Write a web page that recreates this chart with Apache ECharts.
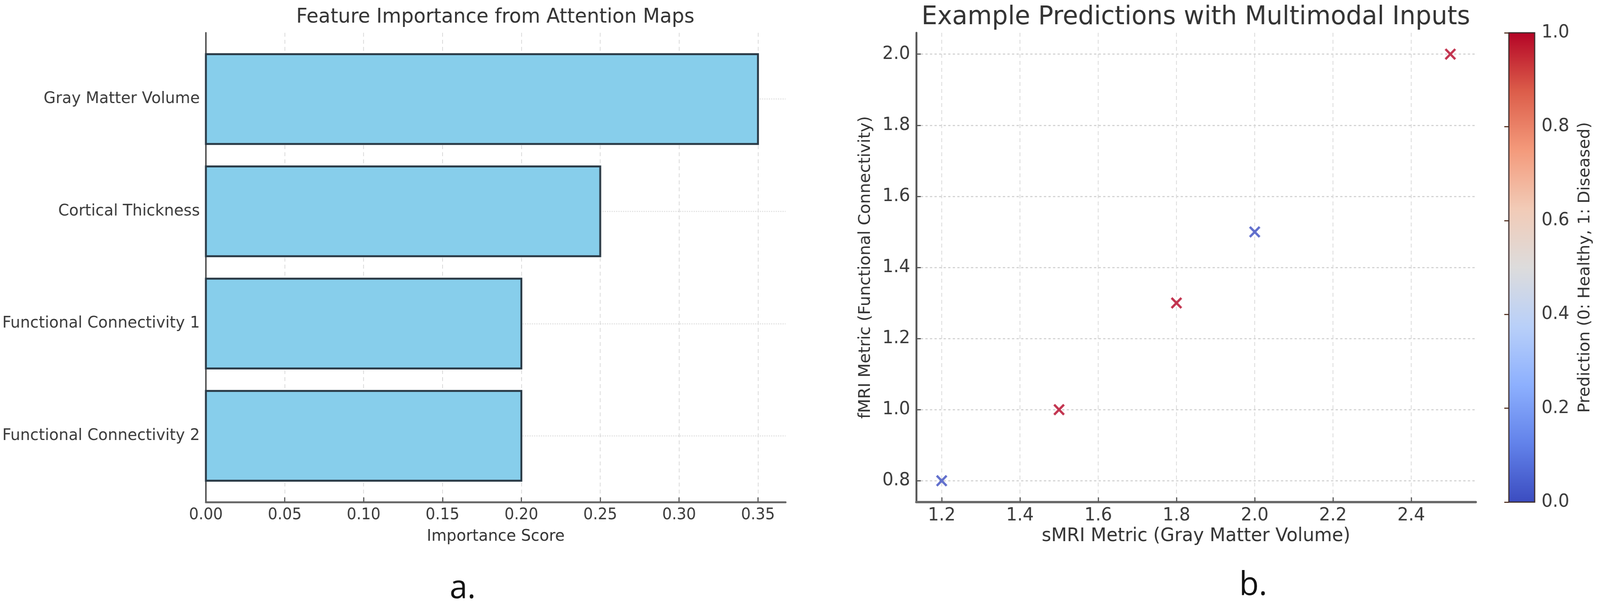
<!DOCTYPE html>
<html>
<head>
<meta charset="utf-8">
<script src="https://cdn.jsdelivr.net/npm/echarts@6/dist/echarts.min.js"></script>
<style>
  html, body { margin: 0; padding: 0; background: #fff; overflow: hidden; }
  #chart { width: 4212px; height: 1547px; transform-origin: 0 0; }
</style>
</head>
<body>
<div id="chart"></div>
<script>
// --- data: feature importance (panel a) ---
var features = ['Gray Matter Volume', 'Cortical Thickness', 'Functional Connectivity 1', 'Functional Connectivity 2'];
var importance = [0.35, 0.25, 0.20, 0.20];
var importanceTicks = [0, 0.05, 0.10, 0.15, 0.20, 0.25, 0.30, 0.35];

// --- data: predictions (panel b) ---
var smri = [1.2, 1.5, 1.8, 2.0, 2.5];
var fmri = [0.8, 1.0, 1.3, 1.5, 2.0];
var prediction = [0, 1, 1, 0, 1];
var smriTicks = [1.2, 1.4, 1.6, 1.8, 2.0, 2.2, 2.4];
var fmriTicks = [0.8, 1.0, 1.2, 1.4, 1.6, 1.8, 2.0];
var colorbarTicks = [0, 0.2, 0.4, 0.6, 0.8, 1.0];

// matplotlib coolwarm, sampled
var coolwarm = ['#3b4cc0', '#6282ea', '#8db0fe', '#b9d0f9', '#dddcdc', '#f2cbb7', '#f49a7b', '#dc5d4a', '#b40426'];

(function() {
  var font = 'DejaVu Sans';
  var ink = '#333';
  var spine = '#555';
  var grid = '#d9d9d9';

  // the layout below is in 4212x1547 px; fit it to whatever viewport we get
  var el = document.getElementById('chart');
  function fit() {
    var sx = window.innerWidth / 4212, sy = window.innerHeight / 1547;
    el.style.transform = 'scale(' + sx + ',' + sy + ')';
  }
  fit();

  var chart = echarts.init(el, null, { renderer: 'canvas' });

  var barData = importance.map(function(v, i) { return [v, i]; });
  var scatterData = smri.map(function(x, i) { return [x, fmri[i], prediction[i]]; });

  // filled "x" marker, like matplotlib's marker='x'
  var xMark = 'path://M0,14L14,0L50,36L86,0L100,14L64,50L100,86L86,100L50,64L14,100L0,86L36,50Z';

  var barStops = coolwarm.map(function(c, i) { return { offset: i / (coolwarm.length - 1), color: c }; });

  function tickAxis(ticks, digits, size) {
    return {
      axisTick: { show: true, inside: true, length: 12, customValues: ticks, lineStyle: { color: spine, width: 3 } },
      axisLabel: {
        customValues: ticks, color: '#3a3a3a', fontFamily: font, fontSize: size,
        formatter: function(v) { return v.toFixed(digits); }
      }
    };
  }

  var xA = tickAxis(importanceTicks, 2, 40);
  var xB = tickAxis(smriTicks, 1, 46);
  var yB = tickAxis(fmriTicks, 1, 46);
  var yC = tickAxis(colorbarTicks, 1, 46);

  chart.setOption({
    animation: false,
    backgroundColor: '#fff',
    grid: [
      { left: 542, top: 84, width: 1526, height: 1202 },
      { left: 2412, top: 84, width: 1473, height: 1202 },
      { left: 3972, top: 84, width: 68, height: 1202, show: true, z: 5,
        backgroundColor: new echarts.graphic.LinearGradient(0, 1, 0, 0, barStops),
        borderColor: '#3a2a2a', borderWidth: 3 }
    ],
    xAxis: [
      {
        gridIndex: 0, type: 'value', min: 0, max: 0.3675,
        name: 'Importance Score', nameLocation: 'middle', nameGap: 68,
        nameTextStyle: { color: ink, fontFamily: font, fontSize: 41 },
        axisLine: { show: true, onZero: false, lineStyle: { color: '#6a6a6a', width: 5 } },
        axisTick: xA.axisTick,
        axisLabel: Object.assign({ margin: 14 }, xA.axisLabel),
        splitLine: { show: true, lineStyle: { color: grid, width: 2, type: [10, 8] } }
      },
      {
        gridIndex: 1, type: 'value', min: 1.135, max: 2.565,
        name: 'sMRI Metric (Gray Matter Volume)', nameLocation: 'middle', nameGap: 64,
        nameTextStyle: { color: ink, fontFamily: font, fontSize: 48 },
        axisLine: { show: true, onZero: false, lineStyle: { color: '#6a6a6a', width: 6 } },
        axisTick: xB.axisTick,
        axisLabel: Object.assign({ margin: 12 }, xB.axisLabel),
        splitLine: { show: true, lineStyle: { color: grid, width: 2, type: [10, 8] } }
      },
      { gridIndex: 2, type: 'value', show: false, min: 0, max: 1 }
    ],
    yAxis: [
      {
        gridIndex: 0, type: 'value', inverse: true, min: -0.59, max: 3.59,
        axisLine: { show: true, onZero: false, lineStyle: { color: spine, width: 4 } },
        axisTick: { show: true, inside: true, length: 10, customValues: [0, 1, 2, 3], lineStyle: { color: spine, width: 3 } },
        axisLabel: {
          customValues: [0, 1, 2, 3], margin: 16, color: '#3a3a3a', fontFamily: font, fontSize: 41,
          formatter: function(v) { return features[Math.round(v)]; }
        },
        splitLine: { show: true, lineStyle: { color: '#e2e2e2', width: 3, type: 'dotted' } }
      },
      {
        gridIndex: 1, type: 'value', min: 0.74, max: 2.06,
        name: 'fMRI Metric (Functional Connectivity)', nameLocation: 'middle', nameGap: 112,
        nameTextStyle: { color: ink, fontFamily: font, fontSize: 42 },
        axisLine: { show: true, onZero: false, lineStyle: { color: spine, width: 5 } },
        axisTick: yB.axisTick,
        axisLabel: Object.assign({ margin: 16 }, yB.axisLabel),
        splitLine: { show: true, lineStyle: { color: '#d4d4d4', width: 3, type: [6, 6] } }
      },
      {
        gridIndex: 2, type: 'value', position: 'right', min: 0, max: 1,
        name: 'Prediction (0: Healthy, 1: Diseased)', nameLocation: 'middle', nameGap: 112,
        nameTextStyle: { color: ink, fontFamily: font, fontSize: 42 },
        axisLine: { show: false },
        axisTick: { show: true, inside: true, length: 12, customValues: colorbarTicks, lineStyle: { color: '#5a3a2a', width: 3 } },
        axisLabel: Object.assign({}, yC.axisLabel, { margin: 18 }),
        splitLine: { show: false }
      }
    ],
    visualMap: {
      type: 'continuous', show: false, seriesIndex: 1, dimension: 2,
      min: 0, max: 1, inRange: { color: coolwarm }
    },
    graphic: [
      { type: 'text', x: 1304, y: 45, style: { text: 'Feature Importance from Attention Maps', font: '51.5px "DejaVu Sans"', fill: ink, align: 'center', verticalAlign: 'middle' } },
      { type: 'text', x: 3148, y: 45, style: { text: 'Example Predictions with Multimodal Inputs', font: '66px "DejaVu Sans"', fill: ink, align: 'center', verticalAlign: 'middle' } },
      { type: 'text', x: 1218, y: 1508, style: { text: 'a.', font: '84px "Open Sans"', fill: '#111', align: 'center', verticalAlign: 'middle' } },
      { type: 'text', x: 3299, y: 1500, style: { text: 'b.', font: '84px "Open Sans"', fill: '#111', align: 'center', verticalAlign: 'middle' } }
    ],
    series: [
      {
        type: 'custom', xAxisIndex: 0, yAxisIndex: 0,
        data: barData,
        encode: { x: 0, y: 1 },
        renderItem: function(params, api) {
          var row = api.value(1);
          var start = api.coord([0, row]);
          var end = api.coord([api.value(0), row]);
          var h = api.size([0, 0.8])[1];
          return {
            type: 'rect',
            shape: { x: start[0], y: start[1] - h / 2, width: end[0] - start[0], height: h },
            style: { fill: '#87ceeb', stroke: '#2a3a46', lineWidth: 5 }
          };
        }
      },
      {
        type: 'scatter', xAxisIndex: 1, yAxisIndex: 1,
        data: scatterData,
        symbol: xMark, symbolSize: 30
      }
    ]
  });
  window.addEventListener('resize', function() { fit(); });
})();
</script>
</body>
</html>
